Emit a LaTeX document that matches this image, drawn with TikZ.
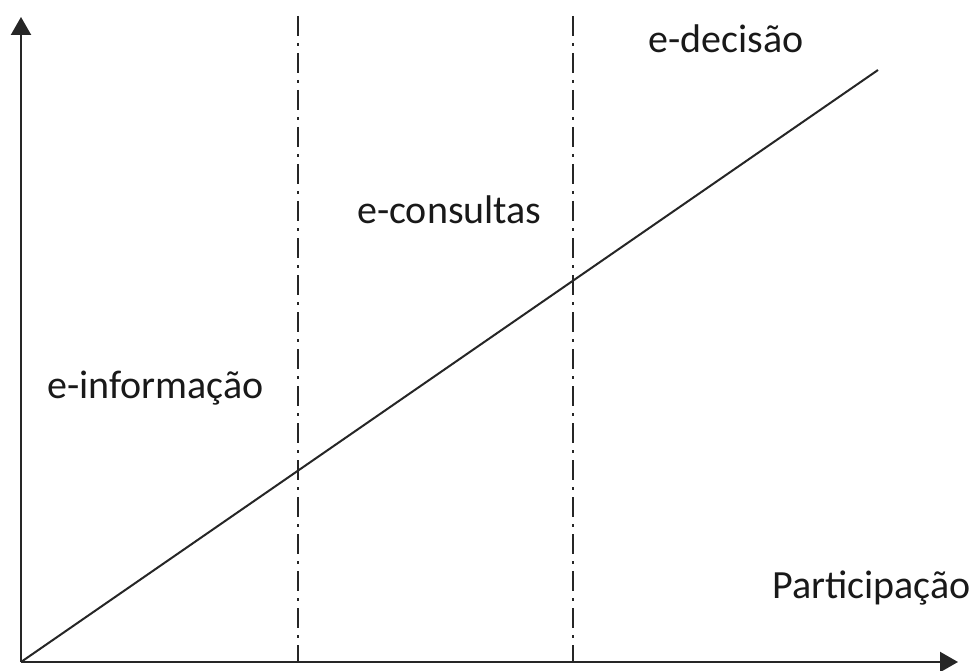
\documentclass[tikz,border=0pt]{standalone}
\usepackage{fontspec}
\setmainfont{Carlito}
\usetikzlibrary{arrows.meta}
\begin{document}
\begin{tikzpicture}[x=1pt,y=-1pt,
  axis/.style={line width=2.2pt,draw=black!85,-{Triangle[length=18pt,width=20pt]}},
  divider/.style={line width=2pt,draw=black!85,dash pattern=on 20pt off 7pt on 3pt off 7pt},
  trend/.style={line width=2pt,draw=black!85},
  lbl/.style={anchor=base west,inner sep=0pt,text=black!90,font=\fontsize{40}{48}\selectfont}]
\useasboundingbox (0,0) rectangle (974,671);
\coordinate (O) at (21,662);
\coordinate (ytop) at (21,17);
\coordinate (xend) at (958,662);
\coordinate (dend) at (878,70);
\coordinate (v1t) at (298,16);
\coordinate (v1b) at (298,662);
\coordinate (v2t) at (573,16);
\coordinate (v2b) at (573,662);
\draw[divider] (v1t) -- (v1b);
\draw[divider] (v2t) -- (v2b);
\draw[trend] (O) -- (dend);
\draw[axis] (O) -- (ytop);
\draw[axis] (O) -- (xend);
\node[lbl] (dec) at (648,53) {e-decisão};
\node[lbl] (con) at (357,223) {e-consultas};
\node[lbl] (inf) at (47,398) {e-informação};
\node[lbl] (par) at (772,598) {Participação};
\end{tikzpicture}
\end{document}
